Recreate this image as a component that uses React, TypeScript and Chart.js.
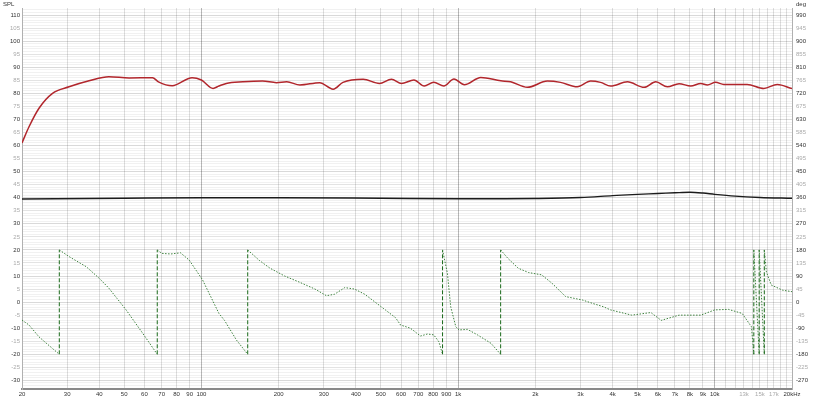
import React, { useEffect, useRef } from "react";
import { Chart, registerables } from "chart.js";

Chart.register(...registerables);

// ---- data ----
const splFreq = [20, 21.3, 23.3, 26.3, 30.5, 36.5, 43.6, 52.3, 64.5, 68, 77, 92, 100, 111, 117, 125, 145, 173, 196, 215, 242, 289, 326, 356, 427, 494, 550, 602, 673, 738, 804, 880, 964, 1058, 1226, 1467, 1603, 1861, 2227, 2508, 2914, 3286, 3590, 3930, 4570, 5309, 5892, 6541, 7262, 8063, 8823, 9363, 10077, 10850, 13385, 15538, 17529, 20000];
const splDb = [61.0, 67.2, 74.3, 80.0, 82.5, 84.8, 86.4, 85.9, 86.0, 84.4, 82.9, 86.0, 85.1, 81.9, 82.8, 83.8, 84.4, 84.7, 84.1, 84.4, 83.2, 84.1, 81.6, 84.2, 85.4, 83.8, 85.4, 83.8, 85.1, 82.8, 84.2, 82.8, 85.5, 83.3, 86.1, 84.8, 84.4, 82.3, 84.7, 84.2, 82.5, 84.7, 84.2, 82.8, 84.4, 82.3, 84.4, 82.5, 83.7, 82.8, 83.8, 83.2, 84.2, 83.4, 83.4, 81.9, 83.4, 81.8];

const traceFreq = [20, 50, 100, 200, 500, 1000, 1500, 2000, 3000, 4000, 5000, 6000, 7000, 8000, 9000, 10000, 12000, 15000, 20000];
const traceDb = [39.5, 39.8, 40.0, 40.0, 39.8, 39.6, 39.6, 39.7, 40.1, 40.8, 41.3, 41.6, 41.9, 42.1, 41.8, 41.3, 40.6, 40.1, 39.8];

const phaseFreq = [20, 21.3, 23.3, 25.5, 27.95, 27.95, 30.5, 35.6, 40, 43.6, 50.9, 59.1, 67.3, 67.3, 70.1, 76, 82.9, 89.6, 101, 117, 123, 137, 151.5, 151.5, 168, 185, 211, 242, 277, 307, 330, 362, 395, 433, 475, 521, 571, 597, 652, 714, 760, 804, 842, 870, 870, 909, 936, 980, 1008, 1088, 1190, 1343, 1465, 1465, 1563, 1715, 1880, 2117, 2322, 2626, 3059, 3357, 3683, 3930, 4750, 5640, 6186, 7262, 8823, 9990, 11300, 12790, 13900, 14200, 14200, 14900, 14900, 15600, 15600, 15900, 16600, 18400, 20000];
const phaseDeg = [-62, -79, -120, -150, -180, 180, 157, 122, 82, 48, -27, -108, -180, 180, 168, 166, 170, 145, 77, -39, -63, -131, -180, 180, 144, 117, 90, 68, 45, 22, 27, 50, 45, 27, 0, -27, -54, -79, -90, -117, -110, -113, -137, -180, 180, 99, -16, -85, -96, -94, -113, -142, -180, 180, 151, 117, 102, 94, 65, 19, 7, -5, -16, -27, -45, -36, -63, -45, -45, -27, -25, -39, -85, -180, 180, -180, 180, -180, 180, 104, 59, 41, 36];

const xTicks = [20, 30, 40, 50, 60, 70, 80, 90, 100, 200, 300, 400, 500, 600, 700, 800, 900, 1000, 2000, 3000, 4000, 5000, 6000, 7000, 8000, 9000, 10000, 11000, 12000, 13000, 14000, 15000, 16000, 17000, 18000, 19000, 20000];
const xTickText = ["20", "30", "40", "50", "60", "70", "80", "90", "100", "200", "300", "400", "500", "600", "700", "800", "900", "1k", "2k", "3k", "4k", "5k", "6k", "7k", "8k", "9k", "10k", "", "", "13k", "", "15k", "", "17k", "", "", "20kHz"];
const xLightLabels = [13000, 15000, 17000];

const splMin = -33.3;
const splMax = 112.7;
const degPerDb = 9;

const FONT = "'Liberation Sans', Arial, sans-serif";

export default function App() {
  const ref = useRef<HTMLCanvasElement | null>(null);

  useEffect(() => {
    const canvas = ref.current;
    if (!canvas) return;

    const axisTitles = {
      id: "axisTitles",
      afterDraw(chart: any) {
        const c = chart.ctx;
        c.save();
        c.font = `6px ${FONT}`;
        c.fillStyle = "#333";
        c.textBaseline = "top";
        c.textAlign = "left";
        c.fillText("SPL", 3, 1);
        c.fillText("deg", 796, 1);
        c.restore();
      },
    };

    const chart = new Chart(canvas, {
      type: "line",
      data: {
        datasets: [
          {
            label: "Phase",
            data: phaseFreq.map((f, i) => ({ x: f, y: phaseDeg[i] })),
            yAxisID: "y2",
            borderColor: "#3f823f",
            borderWidth: 1,
            borderDash: [1.5, 1.5],
            pointRadius: 0,
            tension: 0,
            segment: {
              borderColor: (ctx: any) => (ctx.p0.parsed.x === ctx.p1.parsed.x ? "#1a6a1a" : undefined),
              borderDash: (ctx: any) => (ctx.p0.parsed.x === ctx.p1.parsed.x ? [4, 2] : undefined),
            },
          },
          {
            label: "Trace",
            data: traceFreq.map((f, i) => ({ x: f, y: traceDb[i] })),
            yAxisID: "y",
            borderColor: "#1c1c1c",
            borderWidth: 1.4,
            pointRadius: 0,
            cubicInterpolationMode: "monotone",
          },
          {
            label: "SPL",
            data: splFreq.map((f, i) => ({ x: f, y: splDb[i] })),
            yAxisID: "y",
            borderColor: "#b1262c",
            borderWidth: 1.5,
            pointRadius: 0,
            cubicInterpolationMode: "monotone",
          },
        ],
      },
      options: {
        animation: false,
        responsive: false,
        events: [],
        layout: { padding: { top: 8, left: 0, right: 0, bottom: 0 } },
        plugins: { legend: { display: false }, tooltip: { enabled: false } },
        scales: {
          x: {
            type: "logarithmic",
            min: 20,
            max: 20000,
            afterBuildTicks: (s: any) => {
              s.ticks = xTicks.map((v) => ({ value: v }));
            },
            afterFit: (s: any) => {
              s.height = 11;
            },
            ticks: {
              autoSkip: false,
              maxRotation: 0,
              minRotation: 0,
              padding: 2,
              font: { size: 6, family: FONT },
              callback: (_v: any, i: number) => xTickText[i],
              color: (ctx: any) => (xLightLabels.includes(ctx.tick?.value) ? "#aaa" : "#333"),
            },
            grid: {
              drawTicks: false,
              color: (ctx: any) => {
                const v = ctx.tick?.value;
                if (v === 100 || v === 1000 || v === 10000) return "rgba(0,0,0,0.28)";
                return "rgba(0,0,0,0.13)";
              },
              lineWidth: 1,
            },
            border: { color: "#8a8a8a", width: 2 },
          },
          y: {
            type: "linear",
            position: "left",
            min: splMin,
            max: splMax,
            afterBuildTicks: (s: any) => {
              const t: any[] = [];
              for (let v = -33; v <= 112; v++) t.push({ value: v });
              s.ticks = t;
            },
            afterFit: (s: any) => {
              s.width = 22;
            },
            ticks: {
              autoSkip: false,
              padding: 2,
              font: { size: 6, family: FONT },
              callback: (v: any) => (v % 5 === 0 && v >= -30 && v <= 110 ? String(v) : ""),
              color: (ctx: any) => (ctx.tick?.value % 10 === 0 ? "#333" : "#aaa"),
            },
            grid: {
              drawTicks: false,
              color: (ctx: any) => {
                const v = ctx.tick?.value;
                if (v % 10 === 0) return "rgba(0,0,0,0.15)";
                if (v % 5 === 0) return "rgba(0,0,0,0.11)";
                return "rgba(0,0,0,0.055)";
              },
            },
            border: { color: "#b0b0b0" },
          },
          y2: {
            type: "linear",
            position: "right",
            min: splMin * degPerDb,
            max: splMax * degPerDb,
            afterBuildTicks: (s: any) => {
              const t: any[] = [];
              for (let v = -270; v <= 990; v += 45) t.push({ value: v });
              s.ticks = t;
            },
            afterFit: (s: any) => {
              s.width = 29;
            },
            ticks: {
              autoSkip: false,
              padding: 4,
              font: { size: 6, family: FONT },
              callback: (v: any) => String(v),
              color: (ctx: any) => (ctx.tick?.value % 90 === 0 ? "#333" : "#aaa"),
            },
            grid: { display: false, drawTicks: false },
            border: { color: "#b0b0b0" },
          },
        },
      },
      plugins: [axisTitles],
    } as any);

    return () => chart.destroy();
  }, []);

  return (
    <div style={{ position: "fixed", left: 0, top: 0, width: 821, height: 400, background: "#fff" }}>
      <canvas ref={ref} width={821} height={400} style={{ display: "block" }} />
    </div>
  );
}
